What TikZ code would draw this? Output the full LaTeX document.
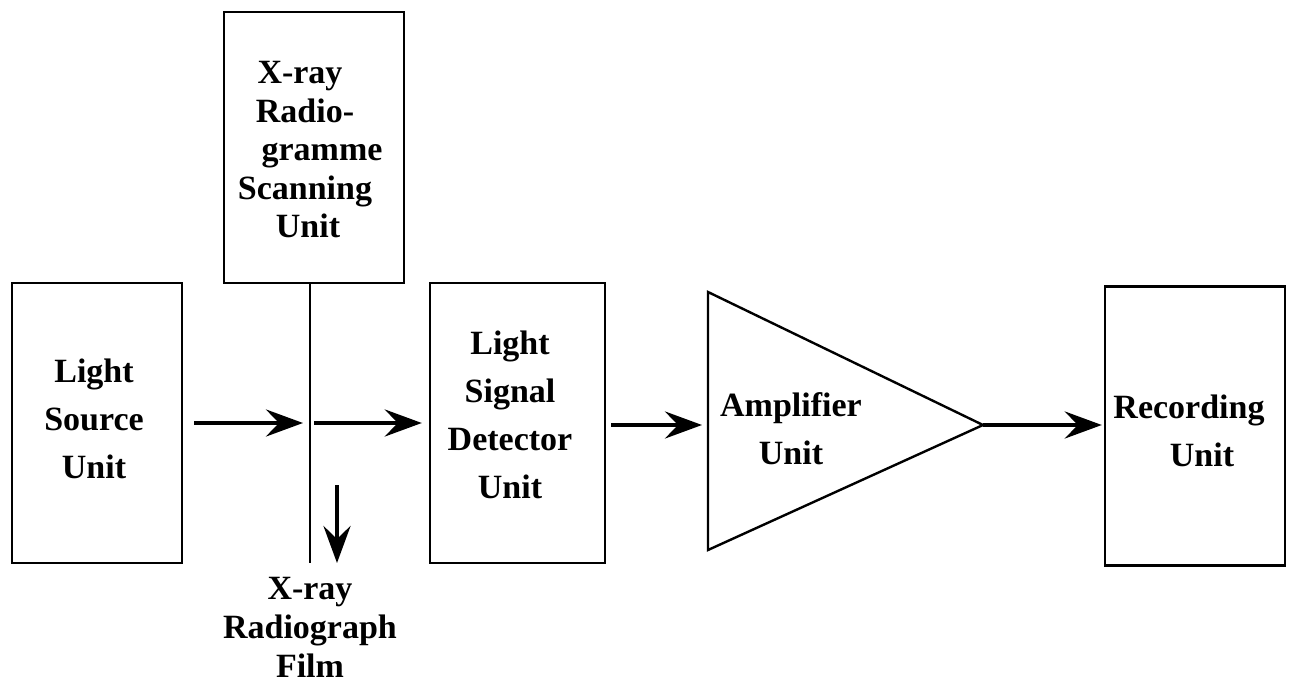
\documentclass[tikz,border=0pt]{standalone}
\usepackage{fontspec}
\setmainfont{Liberation Serif}
\usetikzlibrary{positioning,arrows.meta}

\begin{document}
\begin{tikzpicture}[
    x=1pt, y=-1pt,
    node distance = 420.5pt,
    unitbox/.style = {draw=black, line width=2.4pt, inner sep=0pt,
        minimum width=172pt, minimum height=280pt},
    txt/.style = {align=center, inner sep=0pt,
        font=\fontsize{34}{48}\selectfont\bfseries},
    flow/.style = {-{Stealth[length=37pt, width=27pt, inset=13pt]}, line width=4.5pt}]
    \useasboundingbox (0,0) rectangle (1292,684);
    % NODES
    % light source
    \node[unitbox, minimum width=170pt] (src) at (97,423) {};
    \node[txt] (srctxt) at ([shift={(-3,-4)}]src) {Light\\Source\\Unit};
    % detector
    \node[unitbox, minimum width=175pt, right of = src] (det) {};
    \node[txt] (dettxt) at ([shift={(-7.5,-8)}]det) {Light\\Signal\\Detector\\Unit};
    % recorder
    \node[unitbox, minimum width=180pt, minimum height=279pt, right of = det, node distance = 677.5pt, yshift=-3pt] (rec) {};
    \node[txt] (rectxt) at ([shift={(-6,5)}]rec) {Recording\\\hspace*{26pt}Unit};
    % scanning unit
    \node[unitbox, minimum width=180pt, minimum height=271pt] (scan) at (314,147.5) {};
    \node[txt, font=\fontsize{34}{38.5}\selectfont\bfseries] (scantxt) at ([shift={(-9,2.5)}]scan)
        {X-ray\hspace*{10pt}\\Radio-\hspace*{24pt}\\\hspace*{34pt}gramme\\Scanning\\\hspace*{6pt}Unit};
    % film
    \coordinate (film) at (310,423);
    \coordinate (filmend) at (310,563);
    \coordinate (outtop) at (337,485);
    \coordinate (outend) at (337,563);
    \node[txt, font=\fontsize{34}{39}\selectfont\bfseries] (filmlbl) at (310,627) {X-ray\\Radiograph\\Film};
    % amplifier
    \coordinate (ampL) at (708,425);
    \coordinate (ampTop) at (708,292);
    \coordinate (ampBot) at (708,550);
    \coordinate (ampT) at (983,425);
    \node[txt] (amptxt) at (791,429) {Amplifier\\Unit};

    % LINES
    \draw[line width=2.4pt, line join=miter] (ampTop) -- (ampT) -- (ampBot) -- cycle;
    \draw[line width=2pt] (scan.south -| film) -- (filmend);

    % ARROWS
    \draw[flow, shorten <=11pt, shorten >=7pt] (src.east |- film) -- (film);
    \draw[flow, shorten <=4pt, shorten >=7pt] (film) -- (det.west |- film);
    \draw[flow, shorten <=5pt, shorten >=6pt] (det.east |- ampL) -- (ampL);
    \draw[flow, shorten >=2pt] (ampT) -- (rec.west |- ampT);
    \draw[flow] (outtop) -- (outend);
\end{tikzpicture}
\end{document}
